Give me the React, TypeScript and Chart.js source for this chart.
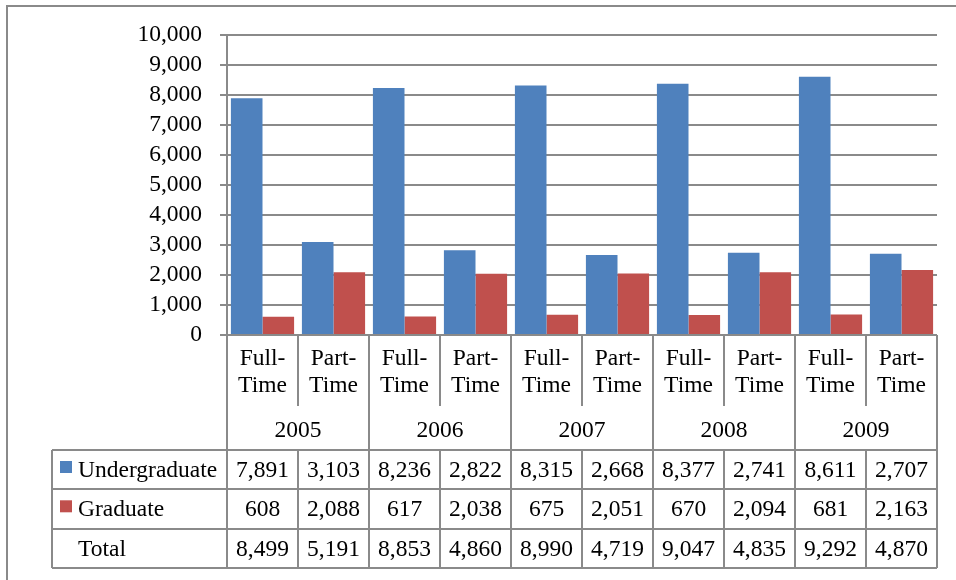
import React, { useEffect, useRef } from 'react';
import { Chart, registerables } from 'chart.js';

Chart.register(...registerables);

const years = ['2005', '2006', '2007', '2008', '2009'];
const typeLabels = [['Full-', 'Time'], ['Part-', 'Time']];
const undergraduate = [7891, 3103, 8236, 2822, 8315, 2668, 8377, 2741, 8611, 2707];
const graduate = [608, 2088, 617, 2038, 675, 2051, 670, 2094, 681, 2163];
const total = [8499, 5191, 8853, 4860, 8990, 4719, 9047, 4835, 9292, 4870];
const seriesNames = ['Undergraduate', 'Graduate', 'Total'];
const yMax = 10000;
const yStep = 1000;

const BLUE = '#4F81BD';
const RED = '#C0504D';
const LINE = '#8a8a8a';
const FONT_FAMILY = "'Liberation Serif', 'Times New Roman', serif";
const FONT_SIZE = 23.5;

const labels = years.flatMap((y) => typeLabels.map((t) => [...t]));

const fmt = (v: number) => v.toLocaleString('en-US');

const tablePlugin = {
  id: 'dataTable',
  afterDraw(chart: any) {
    const ctx: CanvasRenderingContext2D = chart.ctx;
    const area = chart.chartArea;
    const n = labels.length;
    const colW = (area.right - area.left) / n;
    const edge = (i: number) => area.left + i * colW;
    const top = area.bottom;
    const catBottom = top + 71;
    const tableTop = top + 115;
    const rowH = 39.3;
    const tableLeft = 52;
    const tableBottom = tableTop + rowH * 3;

    ctx.save();
    ctx.strokeStyle = LINE;
    ctx.lineWidth = 2;

    const line = (x1: number, y1: number, x2: number, y2: number) => {
      ctx.beginPath();
      ctx.moveTo(x1, y1);
      ctx.lineTo(x2, y2);
      ctx.stroke();
    };

    // outer frame
    ctx.strokeRect(7, 6, 1000, 1000);

    // header verticals
    for (let i = 0; i <= n; i++) {
      const x = Math.round(edge(i));
      if (i % 2 === 0) line(x, top, x, tableBottom);
      else {
        line(x, top, x, catBottom);
        line(x, tableTop, x, tableBottom);
      }
    }
    // horizontal table lines
    for (let r = 0; r <= 3; r++) {
      const y = Math.round(tableTop + r * rowH);
      line(tableLeft, y, Math.round(edge(n)), y);
    }
    line(tableLeft, Math.round(tableTop), tableLeft, Math.round(tableBottom));

    ctx.fillStyle = '#000';
    ctx.font = `${FONT_SIZE}px ${FONT_FAMILY}`;
    ctx.textAlign = 'center';
    ctx.textBaseline = 'alphabetic';

    // category labels
    for (let i = 0; i < n; i++) {
      const cx = edge(i) + colW / 2;
      const lab = labels[i];
      ctx.fillText(lab[0], cx, top + 30);
      ctx.fillText(lab[1], cx, top + 57);
    }
    // years
    years.forEach((y, k) => {
      ctx.fillText(y, edge(2 * k + 1), top + 102);
    });

    // data rows
    const rows = [undergraduate, graduate, total];
    const colors = [BLUE, RED, null];
    rows.forEach((vals, r) => {
      const base = tableTop + r * rowH + 27;
      ctx.textAlign = 'center';
      ctx.fillStyle = '#000';
      vals.forEach((v, i) => {
        ctx.fillText(fmt(v), edge(i) + colW / 2, base);
      });
      ctx.textAlign = 'left';
      ctx.fillText(seriesNames[r], 78, base);
      const c = colors[r];
      if (c) {
        ctx.fillStyle = c;
        ctx.fillRect(60, base - 16, 12, 12);
      }
    });
    ctx.restore();
  },
};

export default function App() {
  const ref = useRef<HTMLCanvasElement>(null);
  useEffect(() => {
    if (!ref.current) return;
    const chart = new Chart(ref.current, {
      type: 'bar',
      data: {
        labels: labels as any,
        datasets: [
          { label: seriesNames[0], data: undergraduate, backgroundColor: BLUE, categoryPercentage: 0.89, barPercentage: 1 },
          { label: seriesNames[1], data: graduate, backgroundColor: RED, categoryPercentage: 0.89, barPercentage: 1 },
        ],
      },
      options: {
        responsive: false,
        animation: false,
        devicePixelRatio: 1,
        layout: { padding: { left: 0, right: 19, top: 35, bottom: 245 } },
        plugins: { legend: { display: false }, tooltip: { enabled: false } },
        scales: {
          x: { display: false },
          y: {
            min: 0,
            max: yMax,
            afterFit: (s: any) => { s.width = 227; },
            ticks: {
              stepSize: yStep,
              autoSkip: false,
              color: '#000',
              padding: 18,
              font: { family: FONT_FAMILY, size: FONT_SIZE },
              callback: (v: any) => fmt(Number(v)),
            },
            grid: { color: LINE, lineWidth: 2, tickLength: 7 },
            border: { display: true, color: LINE, width: 2 },
          },
        },
      },
      plugins: [tablePlugin],
    });
    return () => chart.destroy();
  }, []);
  return (
    <div style={{ position: 'absolute', left: 0, top: 0, width: 956, height: 580, background: '#fff' }}>
      <canvas ref={ref} width={956} height={580} style={{ display: 'block' }} />
    </div>
  );
}
